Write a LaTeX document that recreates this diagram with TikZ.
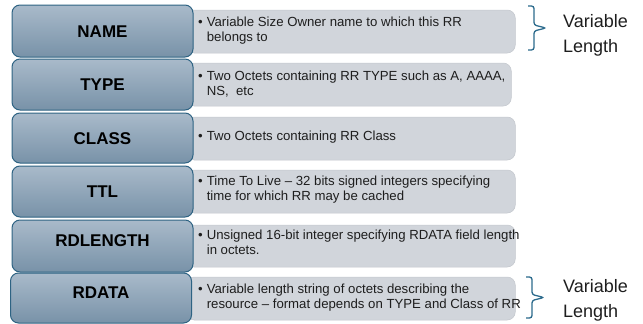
\documentclass[tikz,border=0pt]{standalone}
\usepackage{fontspec}
\setmainfont{Liberation Sans}

\definecolor{fieldTop}{HTML}{A9BACA}
\definecolor{fieldBot}{HTML}{7892A8}
\definecolor{fieldEdge}{HTML}{2E6383}
\definecolor{barFill}{HTML}{D1D5DB}
\definecolor{barEdge}{HTML}{C3C7CD}
\definecolor{braceCol}{HTML}{2B6A8C}
\definecolor{inkCol}{HTML}{1E1E1E}

% bullet line, optionally continued with an indented second line
\newcommand\oneline[1]{\textbullet\hspace{4pt}#1}
\newcommand\twoline[2]{\textbullet\hspace{4pt}#1\\\phantom{\textbullet}\hspace{4pt}#2}

\begin{document}
\begin{tikzpicture}[x=1pt,y=-1pt,
  field/.style={draw=fieldEdge, line width=1pt, rounded corners=8pt,
    top color=fieldTop, bottom color=fieldBot, minimum width=181pt,
    inner sep=0pt, text=black, text height=12.2pt, text depth=0pt,
    font=\fontsize{17}{20}\selectfont\bfseries},
  raised/.style={text depth=12pt},
  bar/.style={fill=barFill, draw=barEdge, line width=0.5pt, rounded corners=8pt,
    minimum width=329pt, minimum height=43pt, inner sep=0pt, anchor=west},
  desc/.style={align=left, inner sep=0pt, anchor=west, text=inkCol,
    font=\fontsize{13.2}{15}\selectfont},
  bracket/.style={draw=braceCol, line width=1.3pt, rounded corners=2.5pt},
  side/.style={align=left, inner sep=0pt, anchor=base west, text=inkCol,
    font=\fontsize{18}{24.5}\selectfont}
]
\useasboundingbox (0,0) rectangle (643,324);

% description bars (their left ends sit behind the field boxes)
\node[bar] (nameBar)  at (186,31.5) {};
\node[bar, minimum width=325pt] (typeBar) at (186,84.5) {};
\node[bar] (classBar) at (186,138.5) {};
\node[bar] (ttlBar)   at (186,191.5) {};
\node[bar, minimum height=42pt] (rdlBar) at (186,246) {};
\node[bar] (rdataBar) at (186,298.5) {};

% field boxes
\node[field, minimum height=52pt] (name)  at (102.5,31)  {NAME};
\node[field, minimum height=51pt] (type)  at (102.5,84.5) {TYPE};
\node[field, minimum height=50pt] (class) at (102.5,138) {CLASS};
\node[field, minimum height=51pt] (ttl)   at (102.5,191.5) {TTL};
\node[field, raised, minimum height=52pt] (rdl) at (102.5,246) {RDLENGTH};
\node[field, raised, minimum height=50pt] (rdata) at (101,298) {RDATA};

% descriptions
\node[desc] (nameTxt)  at (198,30.5)  {\twoline{Variable Size Owner name to which this RR}{belongs to}};
\node[desc] (typeTxt)  at (198,84.5)  {\twoline{Two Octets containing RR TYPE such as A, AAAA,}{NS,\ \ etc}};
\node[desc] (classTxt) at (198,137.5) {\oneline{Two Octets containing RR Class}};
\node[desc] (ttlTxt)   at (198,189.5) {\twoline{Time To Live -- 32 bits signed integers specifying}{time for which RR may be cached}};
\node[desc] (rdlTxt)   at (198,242.5) {\twoline{Unsigned 16-bit integer specifying RDATA field length}{in octets.}};
\node[desc] (rdataTxt) at (198,297.5) {\twoline{Variable length string of octets describing the}{resource -- format depends on TYPE and Class of RR}};

% braces marking the variable-length fields
\coordinate (nameBraceTop) at (528,6);
\coordinate (nameBraceBot) at (528,50);
\draw[bracket] (nameBraceTop) -- (534,6) -- (534,25) -- (546,28)
  -- (534,31) -- (534,50) -- (nameBraceBot);
\node[side] (nameSide) at (563,52) {Variable\\Length};

\coordinate (rdataBraceTop) at (526,277);
\coordinate (rdataBraceBot) at (526,318);
\draw[bracket] (rdataBraceTop) -- (532,277) -- (532,294.5) -- (544,297.5)
  -- (532,300.5) -- (532,318) -- (rdataBraceBot);
\node[side] (rdataSide) at (563,317) {Variable\\Length};
\end{tikzpicture}
\end{document}
